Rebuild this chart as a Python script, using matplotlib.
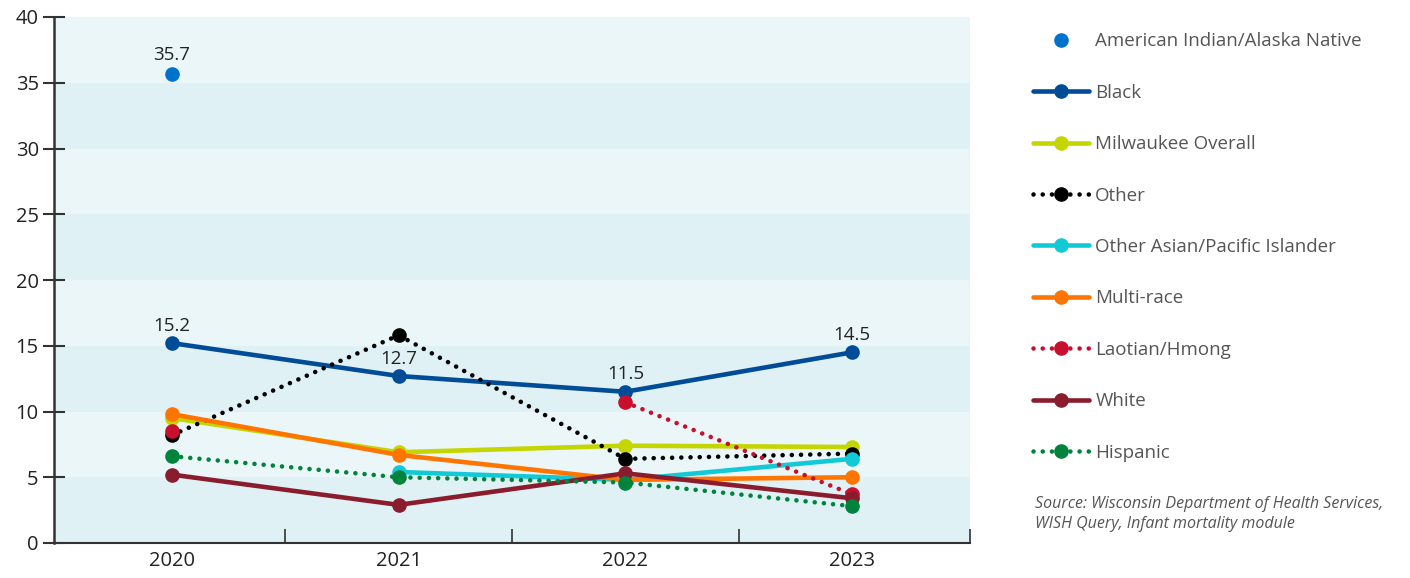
import numpy as np
import matplotlib
matplotlib.use("Agg")
import matplotlib.pyplot as plt
from matplotlib.ticker import FixedLocator

plt.rcParams["font.family"] = ["Open Sans", "DejaVu Sans"]

years = ["2020", "2021", "2022", "2023"]

aian = [35.7, np.nan, np.nan, np.nan]
black = [15.2, 12.7, 11.5, 14.5]
milwaukee = [9.5, 6.9, 7.4, 7.3]
other = [8.2, 15.8, 6.4, 6.8]
other_asian = [np.nan, 5.4, 4.8, 6.4]
multi_race = [9.8, 6.7, 4.8, 5.0]
laotian = [8.5, np.nan, 10.7, 3.7]
white = [5.2, 2.9, 5.3, 3.4]
hispanic = [6.6, 5.0, 4.6, 2.8]

# (label, values, colour, dotted)
series = [
    ("American Indian/Alaska Native", aian, "#0072ce", None),
    ("Black", black, "#004c97", False),
    ("Milwaukee Overall", milwaukee, "#c4d600", False),
    ("Other", other, "#000000", True),
    ("Other Asian/Pacific Islander", other_asian, "#12c9d6", False),
    ("Multi-race", multi_race, "#ff7500", False),
    ("Laotian/Hmong", laotian, "#c8102e", True),
    ("White", white, "#8a1c2d", False),
    ("Hispanic", hispanic, "#00843d", True),
]

fig = plt.figure(figsize=(14.1, 5.78), dpi=100)
ax = fig.add_axes([54 / 1410, 35 / 578, 916 / 1410, 526 / 578])

x = np.arange(len(years))

# alternating horizontal bands
band_light = "#eaf6f8"
band_dark = "#dff1f4"
for i, lo in enumerate(range(0, 40, 5)):
    ax.axhspan(lo, lo + 5, color=band_dark if i % 2 == 0 else band_light,
               lw=0, zorder=0)

handles = []
for label, vals, color, dotted in series:
    if dotted is None:
        h, = ax.plot(x, vals, ls="none", marker="o", ms=9.5, color=color,
                     label=label, zorder=3)
    elif dotted:
        h, = ax.plot(x, vals, ls=(0, (0.01, 2.0)), lw=3.3, color=color,
                     dash_capstyle="round", marker="o", ms=9.5,
                     label=label, zorder=3)
    else:
        h, = ax.plot(x, vals, ls="-", lw=3.3, color=color,
                     solid_capstyle="round", marker="o", ms=9.5,
                     label=label, zorder=3)
    handles.append(h)

# value labels
ax.annotate(f"{aian[0]}", (x[0], aian[0]), xytext=(0, 7),
            textcoords="offset points", ha="center", va="bottom",
            fontsize=13.5, color="#222222", zorder=5)
for xi, v in zip(x, black):
    ax.annotate(f"{v}", (xi, v), xytext=(0, 6), textcoords="offset points",
                ha="center", va="bottom", fontsize=13.5, color="#222222",
                zorder=5)

ax.set_xlim(-0.52, 3.52)
ax.set_ylim(0, 40)
ax.set_yticks(range(0, 41, 5))
ax.set_xticks(x)
ax.set_xticklabels(years)
ax.xaxis.set_minor_locator(FixedLocator([0.5, 1.5, 2.5, 3.52]))

ax.tick_params(axis="y", direction="inout", length=16, width=1.5,
               color="#333333", labelsize=14.5, labelcolor="#222222", pad=3)
ax.tick_params(axis="x", which="major", length=0, labelsize=14.5,
               labelcolor="#222222", pad=6)
ax.tick_params(axis="x", which="minor", direction="in", length=10,
               width=1.2, color="#333333")

for side in ["top", "right"]:
    ax.spines[side].set_visible(False)
ax.spines["left"].set_color("#333333")
ax.spines["left"].set_linewidth(1.8)
ax.spines["bottom"].set_color("#333333")
ax.spines["bottom"].set_linewidth(1.5)

fig.legend(handles=handles, loc="upper left",
           bbox_to_anchor=(1025 / 1410, 1 - 25 / 578), frameon=False,
           fontsize=13.5, labelcolor="#555555", handlelength=3.0,
           handletextpad=0.35, labelspacing=1.78, borderaxespad=0)

fig.text(1035 / 1410, 1 - 514 / 578,
         "Source: Wisconsin Department of Health Services,\n"
         "WISH Query, Infant mortality module",
         fontsize=11.5, style="italic", color="#555555", va="center",
         linespacing=1.3)

fig.savefig("out.png", dpi=100)
